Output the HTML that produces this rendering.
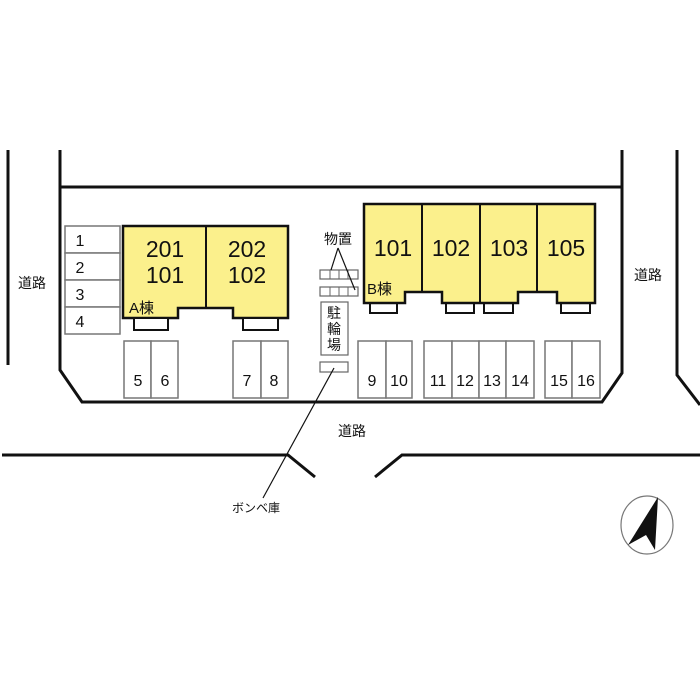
<!DOCTYPE html>
<html><head><meta charset="utf-8"><style>
html,body{margin:0;padding:0;background:#fff;}
svg{display:block;font-family:"Liberation Sans","Noto Sans CJK JP",sans-serif;}
</style></head><body>
<svg width="700" height="700" viewBox="0 0 700 700" xmlns="http://www.w3.org/2000/svg">
<g fill="none" stroke="#111" stroke-width="3">
<path d="M60 150 V370 L82 402 H602 L622 373 V150"/>
<path d="M60 187 H622"/>
<path d="M8 150 V365"/>
<path d="M677 150 V375 L700 405"/>
<path d="M2 455 H288 L315 477"/>
<path d="M375 477 L402 455 H700"/>
</g>
<!-- parking 1-4 -->
<g fill="#fff" stroke="#777" stroke-width="1.5">
<rect x="65" y="226" width="55" height="27"/><rect x="65" y="253" width="55" height="27"/>
<rect x="65" y="280" width="55" height="27"/><rect x="65" y="307" width="55" height="27"/>
<rect x="124" y="341" width="27" height="57"/><rect x="151" y="341" width="27" height="57"/>
<rect x="233" y="341" width="28" height="57"/><rect x="261" y="341" width="27" height="57"/>
<rect x="358" y="341" width="28" height="57"/><rect x="386" y="341" width="26" height="57"/>
<rect x="424" y="341" width="28" height="57"/><rect x="452" y="341" width="27" height="57"/>
<rect x="479" y="341" width="27" height="57"/><rect x="506" y="341" width="28" height="57"/>
<rect x="545" y="341" width="27" height="57"/><rect x="572" y="341" width="28" height="57"/>
</g>
<g font-size="16" fill="#111" text-anchor="middle">
<text x="80" y="246">1</text><text x="80" y="273">2</text><text x="80" y="300">3</text><text x="80" y="327">4</text>
<text x="138" y="386">5</text><text x="165" y="386">6</text><text x="247" y="386">7</text><text x="274" y="386">8</text>
<text x="372" y="386">9</text><text x="399" y="386">10</text><text x="438" y="386">11</text><text x="465" y="386">12</text>
<text x="492" y="386">13</text><text x="520" y="386">14</text><text x="559" y="386">15</text><text x="586" y="386">16</text>
</g>
<!-- building A -->
<path d="M123 226 H288 V318 H233 V308 H178 V318 H123 Z" fill="#fbf08c" stroke="#111" stroke-width="2.5"/>
<line x1="206" y1="226" x2="206" y2="308" stroke="#111" stroke-width="2"/>
<g fill="#fff" stroke="#111" stroke-width="2">
<rect x="134" y="318" width="34" height="12"/><rect x="243" y="318" width="35" height="12"/>
<rect x="370" y="303" width="27" height="10"/><rect x="446" y="303" width="28" height="10"/>
<rect x="484" y="303" width="29" height="10"/><rect x="561" y="303" width="29" height="10"/>
</g>
<!-- building B -->
<path d="M364 204 H595 V303 H557 V292 H518 V303 H442 V292 H405 V303 H364 Z" fill="#fbf08c" stroke="#111" stroke-width="2.5"/>
<g stroke="#111" stroke-width="2"><line x1="422" y1="204" x2="422" y2="292"/><line x1="480" y1="204" x2="480" y2="303"/><line x1="537" y1="204" x2="537" y2="292"/></g>
<g font-size="23" fill="#111" text-anchor="middle">
<text x="165" y="257">201</text><text x="165" y="283">101</text>
<text x="247" y="257">202</text><text x="247" y="283">102</text>
<text x="393" y="256">101</text><text x="451" y="256">102</text><text x="509" y="256">103</text><text x="566" y="256">105</text>
</g>
<g font-size="15" fill="#111">
<text x="129" y="313">A棟</text><text x="367" y="294">B棟</text>
</g>
<!-- storage -->
<g fill="#fff" stroke="#666" stroke-width="1.2">
<rect x="320" y="270" width="38" height="9"/><rect x="320" y="287" width="38" height="9"/>
<rect x="321" y="302" width="27" height="53"/><rect x="320" y="362" width="28" height="10"/>
</g>
<g stroke="#666" stroke-width="1"><line x1="330" y1="270" x2="330" y2="279"/><line x1="339" y1="270" x2="339" y2="279"/><line x1="348" y1="270" x2="348" y2="279"/>
<line x1="330" y1="287" x2="330" y2="296"/><line x1="339" y1="287" x2="339" y2="296"/><line x1="348" y1="287" x2="348" y2="296"/></g>
<g stroke="#111" stroke-width="1.2"><line x1="338" y1="248" x2="331" y2="270"/><line x1="338" y1="248" x2="355" y2="290"/>
<line x1="263" y1="498" x2="334" y2="368"/></g>
<text x="338" y="244" font-size="14" text-anchor="middle" fill="#111">物置</text>
<g font-size="14" fill="#111" text-anchor="middle"><text x="334" y="318">駐</text><text x="334" y="334">輪</text><text x="334" y="350">場</text></g>
<g font-size="14" fill="#111" text-anchor="middle">
<text x="32" y="288">道路</text><text x="648" y="280">道路</text><text x="352" y="436">道路</text>
</g>
<text x="256" y="512" font-size="12" text-anchor="middle" fill="#111">ボンベ庫</text>
<ellipse cx="647" cy="525" rx="26" ry="29" fill="none" stroke="#777" stroke-width="1.2"/>
<path d="M658 497 L628 545 L646 535 L655 550 Z" fill="#111"/>
</svg>
</body></html>
